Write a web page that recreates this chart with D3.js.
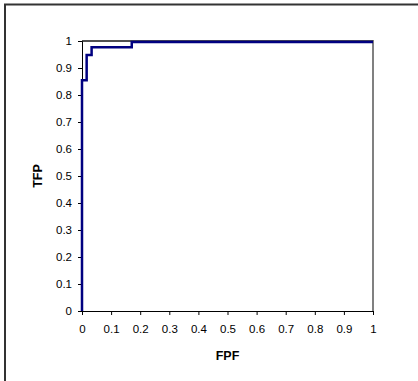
<!DOCTYPE html>
<html>
<head>
<meta charset="utf-8">
<script src="https://cdn.jsdelivr.net/npm/d3@7"></script>
<style>
  body { margin: 0; background: #fff; }
  svg { font-family: "Liberation Sans", Arial, sans-serif; }
</style>
</head>
<body>
<div id="chart"></div>
<script>
// ROC curve points
const fpf = [0, 0, 0.016, 0.016, 0.033, 0.033, 0.171, 0.171, 1]
const tfp = [0, 0.855, 0.855, 0.948, 0.948, 0.977, 0.977, 0.996, 0.996]
const xTicks = [0, 0.1, 0.2, 0.3, 0.4, 0.5, 0.6, 0.7, 0.8, 0.9, 1]
const yTicks = [0, 0.1, 0.2, 0.3, 0.4, 0.5, 0.6, 0.7, 0.8, 0.9, 1]

const width = 418
const height = 381
const plot = { left: 82, top: 41, right: 373, bottom: 311 }

const svg = d3.select('#chart').append('svg')
  .attr('width', width)
  .attr('height', height)

// outer chart frame
svg.append('path')
  .attr('d', 'M5,' + (height + 5) + 'V4.5H' + (width + 5))
  .attr('fill', 'none')
  .attr('stroke', '#333')
  .attr('stroke-width', 2)

const x = d3.scaleLinear().domain([0, 1]).range([plot.left, plot.right])
const y = d3.scaleLinear().domain([0, 1]).range([plot.bottom, plot.top])

// plot area border (top and right)
svg.append('path')
  .attr('d', 'M' + plot.left + ',' + plot.top + 'H' + plot.right + 'V' + plot.bottom)
  .attr('fill', 'none')
  .attr('stroke', '#808080')
  .attr('stroke-width', 2)
svg.append('line')
  .attr('x1', plot.left).attr('x2', plot.right)
  .attr('y1', plot.top).attr('y2', plot.top)
  .attr('stroke', '#222')

const xAxis = svg.append('g')
  .attr('transform', 'translate(0,' + plot.bottom + ')')
  .call(d3.axisBottom(x).tickValues(xTicks).tickSize(4).tickPadding(10).tickFormat(d3.format('')))
const yAxis = svg.append('g')
  .attr('transform', 'translate(' + plot.left + ',0)')
  .call(d3.axisLeft(y).tickValues(yTicks).tickSize(4).tickPadding(6).tickFormat(d3.format('')))

for (const ax of [xAxis, yAxis]) {
  ax.select('.domain').attr('stroke', '#000')
  ax.selectAll('.tick line').attr('stroke', '#000')
  ax.selectAll('.tick text').attr('font-size', 11.5).attr('fill', '#000')
}

// axis titles
svg.append('text')
  .text('FPF')
  .attr('x', (plot.left + plot.right) / 2)
  .attr('y', 360)
  .attr('text-anchor', 'middle')
  .attr('font-size', 12.5)
  .attr('font-weight', 'bold')
svg.append('text')
  .text('TFP')
  .attr('transform', 'translate(42,' + (plot.top + plot.bottom) / 2 + ') rotate(-90)')
  .attr('text-anchor', 'middle')
  .attr('font-size', 12.5)
  .attr('font-weight', 'bold')

const points = fpf.map((d, i) => [d, tfp[i]])
const line = d3.line().x(d => x(d[0])).y(d => y(d[1]))

svg.append('path')
  .datum(points)
  .attr('d', line)
  .attr('fill', 'none')
  .attr('stroke', '#000080')
  .attr('stroke-width', 2.5)
</script>
</body>
</html>
